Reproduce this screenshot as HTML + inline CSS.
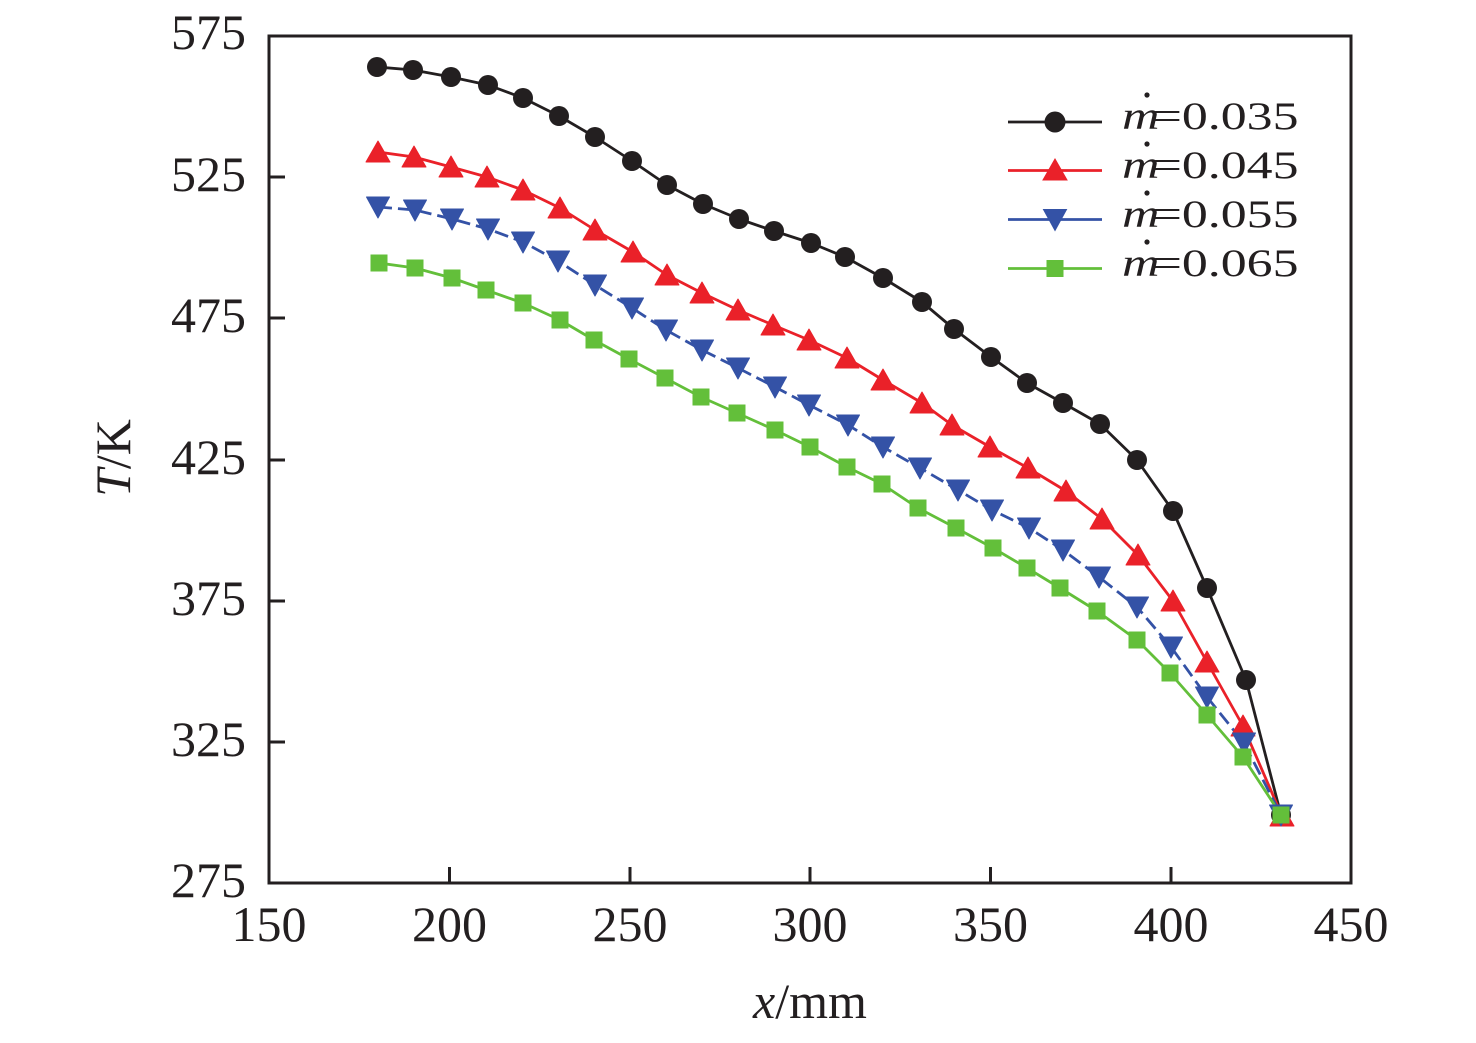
<!DOCTYPE html>
<html>
<head>
<meta charset="utf-8">
<style>
  html,body{margin:0;padding:0;background:#fff;}
  svg{display:block;}
  text{font-family:"Liberation Serif","Times New Roman",serif;fill:#231f20;}
</style>
</head>
<body>
<svg width="1476" height="1043" viewBox="0 0 1476 1043" xmlns="http://www.w3.org/2000/svg">
  <rect x="0" y="0" width="1476" height="1043" fill="#fff"/>

  <!-- series lines -->
  <polyline fill="none" stroke="#231f20" stroke-width="2.8" stroke-linejoin="round"
    points="377,67 413,70 451,77 488,85 523,98 559,116 595,137 632,161 667,185 703,204 739,219 774,231 811,243 845,257 883,278 922,302 954,329 991,357 1027,383 1063,403 1100,424 1137,460 1173,511 1207,588 1246,680 1281,815"/>
  <polyline fill="none" stroke="#ea2129" stroke-width="2.8" stroke-linejoin="round"
    points="378,152 414,157 451,167 487,177 523,190 560,208 595,230 633,252 667,275 702,293 738,310 773,325 809,340 847,358 883,380 922,403 952,425 990,447 1028,468 1066,491 1102,519 1138,555 1173,601 1207,662 1243,726 1282,816"/>
  <polyline fill="none" stroke="#3452a6" stroke-width="2.8" stroke-dasharray="14 6" stroke-linejoin="round"
    points="378,207 415,210 452,219 488,229 523,242 558,261 595,285 632,308 666,330 702,350 738,368 775,387 809,405 848,425 883,447 920,468 958,490 992,510 1029,528 1063,550 1099,577 1137,607 1171,647 1207,697 1244,743 1281,815"/>
  <polyline fill="none" stroke="#63bf3a" stroke-width="2.8" stroke-linejoin="round"
    points="379,263 415,268 452,278 486,290 523,303 560,320 594,340 629,359 665,378 701,397 737,413 775,430 810,447 847,467 882,484 918,508 956,528 993,548 1027,568 1060,588 1097,611 1137,640 1170,673 1207,715 1243,757 1281,815"/>

  <!-- black circles -->
  <g fill="#231f20">
    <circle cx="377" cy="67" r="10"/><circle cx="413" cy="70" r="10"/><circle cx="451" cy="77" r="10"/>
    <circle cx="488" cy="85" r="10"/><circle cx="523" cy="98" r="10"/><circle cx="559" cy="116" r="10"/>
    <circle cx="595" cy="137" r="10"/><circle cx="632" cy="161" r="10"/><circle cx="667" cy="185" r="10"/>
    <circle cx="703" cy="204" r="10"/><circle cx="739" cy="219" r="10"/><circle cx="774" cy="231" r="10"/>
    <circle cx="811" cy="243" r="10"/><circle cx="845" cy="257" r="10"/><circle cx="883" cy="278" r="10"/>
    <circle cx="922" cy="302" r="10"/><circle cx="954" cy="329" r="10"/><circle cx="991" cy="357" r="10"/>
    <circle cx="1027" cy="383" r="10"/><circle cx="1063" cy="403" r="10"/><circle cx="1100" cy="424" r="10"/>
    <circle cx="1137" cy="460" r="10"/><circle cx="1173" cy="511" r="10"/><circle cx="1207" cy="588" r="10"/>
    <circle cx="1246" cy="680" r="10"/><circle cx="1281" cy="815" r="10"/>
  </g>

  <defs>
    <path id="tu" d="M0,-11 L12,10 L-12,10 Z"/>
    <path id="td" d="M0,11 L11.5,-10 L-11.5,-10 Z"/>
    <rect id="sq" x="-8.5" y="-8.5" width="17" height="17"/>
  </defs>
  <!-- red up-triangles -->
  <g fill="#ea2129" stroke="#ea2129" stroke-width="1" stroke-linejoin="round">
    <use href="#tu" x="378" y="152"/><use href="#tu" x="414" y="157"/><use href="#tu" x="451" y="167"/>
    <use href="#tu" x="487" y="177"/><use href="#tu" x="523" y="190"/><use href="#tu" x="560" y="208"/>
    <use href="#tu" x="595" y="230"/><use href="#tu" x="633" y="252"/><use href="#tu" x="667" y="275"/>
    <use href="#tu" x="702" y="293"/><use href="#tu" x="738" y="310"/><use href="#tu" x="773" y="325"/>
    <use href="#tu" x="809" y="340"/><use href="#tu" x="847" y="358"/><use href="#tu" x="883" y="380"/>
    <use href="#tu" x="922" y="403"/><use href="#tu" x="952" y="425"/><use href="#tu" x="990" y="447"/>
    <use href="#tu" x="1028" y="468"/><use href="#tu" x="1066" y="491"/><use href="#tu" x="1102" y="519"/>
    <use href="#tu" x="1138" y="555"/><use href="#tu" x="1173" y="601"/><use href="#tu" x="1207" y="662"/>
    <use href="#tu" x="1243" y="726"/><use href="#tu" x="1282" y="816"/>
  </g>

  <!-- blue down-triangles -->
  <g fill="#3452a6" stroke="#3452a6" stroke-width="1" stroke-linejoin="round">
    <use href="#td" x="378" y="207"/><use href="#td" x="415" y="210"/><use href="#td" x="452" y="219"/>
    <use href="#td" x="488" y="229"/><use href="#td" x="523" y="242"/><use href="#td" x="558" y="261"/>
    <use href="#td" x="595" y="285"/><use href="#td" x="632" y="308"/><use href="#td" x="666" y="330"/>
    <use href="#td" x="702" y="350"/><use href="#td" x="738" y="368"/><use href="#td" x="775" y="387"/>
    <use href="#td" x="809" y="405"/><use href="#td" x="848" y="425"/><use href="#td" x="883" y="447"/>
    <use href="#td" x="920" y="468"/><use href="#td" x="958" y="490"/><use href="#td" x="992" y="510"/>
    <use href="#td" x="1029" y="528"/><use href="#td" x="1063" y="550"/><use href="#td" x="1099" y="577"/>
    <use href="#td" x="1137" y="607"/><use href="#td" x="1171" y="647"/><use href="#td" x="1207" y="697"/>
    <use href="#td" x="1244" y="743"/><use href="#td" x="1281" y="815"/>
  </g>

  <!-- green squares -->
  <g fill="#63bf3a">
    <use href="#sq" x="379" y="263"/><use href="#sq" x="415" y="268"/><use href="#sq" x="452" y="278"/>
    <use href="#sq" x="486" y="290"/><use href="#sq" x="523" y="303"/><use href="#sq" x="560" y="320"/>
    <use href="#sq" x="594" y="340"/><use href="#sq" x="629" y="359"/><use href="#sq" x="665" y="378"/>
    <use href="#sq" x="701" y="397"/><use href="#sq" x="737" y="413"/><use href="#sq" x="775" y="430"/>
    <use href="#sq" x="810" y="447"/><use href="#sq" x="847" y="467"/><use href="#sq" x="882" y="484"/>
    <use href="#sq" x="918" y="508"/><use href="#sq" x="956" y="528"/><use href="#sq" x="993" y="548"/>
    <use href="#sq" x="1027" y="568"/><use href="#sq" x="1060" y="588"/><use href="#sq" x="1097" y="611"/>
    <use href="#sq" x="1137" y="640"/><use href="#sq" x="1170" y="673"/><use href="#sq" x="1207" y="715"/>
    <use href="#sq" x="1243" y="757"/><use href="#sq" x="1281" y="815"/>
  </g>

  <!-- axes frame -->
  <rect x="269" y="36" width="1082" height="847" fill="none" stroke="#231f20" stroke-width="3"/>
  <g stroke="#231f20" stroke-width="3">
    <line x1="449.5" y1="883" x2="449.5" y2="867"/>
    <line x1="630" y1="883" x2="630" y2="867"/>
    <line x1="810" y1="883" x2="810" y2="867"/>
    <line x1="990.5" y1="883" x2="990.5" y2="867"/>
    <line x1="1171" y1="883" x2="1171" y2="867"/>
    <line x1="269" y1="177" x2="285" y2="177"/>
    <line x1="269" y1="318" x2="285" y2="318"/>
    <line x1="269" y1="460" x2="285" y2="460"/>
    <line x1="269" y1="601" x2="285" y2="601"/>
    <line x1="269" y1="742" x2="285" y2="742"/>
  </g>

  <!-- x tick labels -->
  <g font-size="50" text-anchor="middle">
    <text x="269" y="941">150</text>
    <text x="449.5" y="941">200</text>
    <text x="630" y="941">250</text>
    <text x="810" y="941">300</text>
    <text x="990.5" y="941">350</text>
    <text x="1171" y="941">400</text>
    <text x="1351" y="941">450</text>
  </g>
  <!-- y tick labels -->
  <g font-size="50" text-anchor="end">
    <text x="246" y="49">575</text>
    <text x="246" y="191">525</text>
    <text x="246" y="332">475</text>
    <text x="246" y="474">425</text>
    <text x="246" y="615">375</text>
    <text x="246" y="756">325</text>
    <text x="246" y="897">275</text>
  </g>

  <!-- axis titles -->
  <text x="810" y="1018" font-size="50" text-anchor="middle"><tspan font-style="italic">x</tspan>/mm</text>
  <text transform="translate(130,458) rotate(-90)" font-size="50" text-anchor="middle"><tspan font-style="italic">T</tspan>/K</text>

  <!-- legend -->
  <g stroke-width="2.8">
    <line x1="1008" y1="122" x2="1102" y2="122" stroke="#231f20"/>
    <line x1="1008" y1="170.5" x2="1102" y2="170.5" stroke="#ea2129"/>
    <line x1="1008" y1="219.5" x2="1102" y2="219.5" stroke="#3452a6"/>
    <line x1="1008" y1="268.5" x2="1102" y2="268.5" stroke="#63bf3a"/>
  </g>
  <circle cx="1055" cy="122" r="10.5" fill="#231f20"/>
  <use href="#tu" x="1055" y="170" fill="#ea2129" stroke="#ea2129" stroke-width="1"/>
  <use href="#td" x="1055" y="219.5" fill="#3452a6" stroke="#3452a6" stroke-width="1"/>
  <use href="#sq" x="1055" y="268.5" fill="#63bf3a"/>

  <g font-size="39">
    <g transform="translate(1122,129) scale(1.33,1)">
      <text x="0" y="0" font-style="italic">m</text><text x="23" y="0">=0.035</text>
    </g>
    <g transform="translate(1122,178) scale(1.33,1)">
      <text x="0" y="0" font-style="italic">m</text><text x="23" y="0">=0.045</text>
    </g>
    <g transform="translate(1122,227) scale(1.33,1)">
      <text x="0" y="0" font-style="italic">m</text><text x="23" y="0">=0.055</text>
    </g>
    <g transform="translate(1122,276) scale(1.33,1)">
      <text x="0" y="0" font-style="italic">m</text><text x="23" y="0">=0.065</text>
    </g>
  </g>
  <g fill="#231f20">
    <circle cx="1147" cy="95" r="2.6"/>
    <circle cx="1147" cy="144" r="2.6"/>
    <circle cx="1147" cy="193" r="2.6"/>
    <circle cx="1147" cy="242" r="2.6"/>
  </g>
</svg>
</body>
</html>
